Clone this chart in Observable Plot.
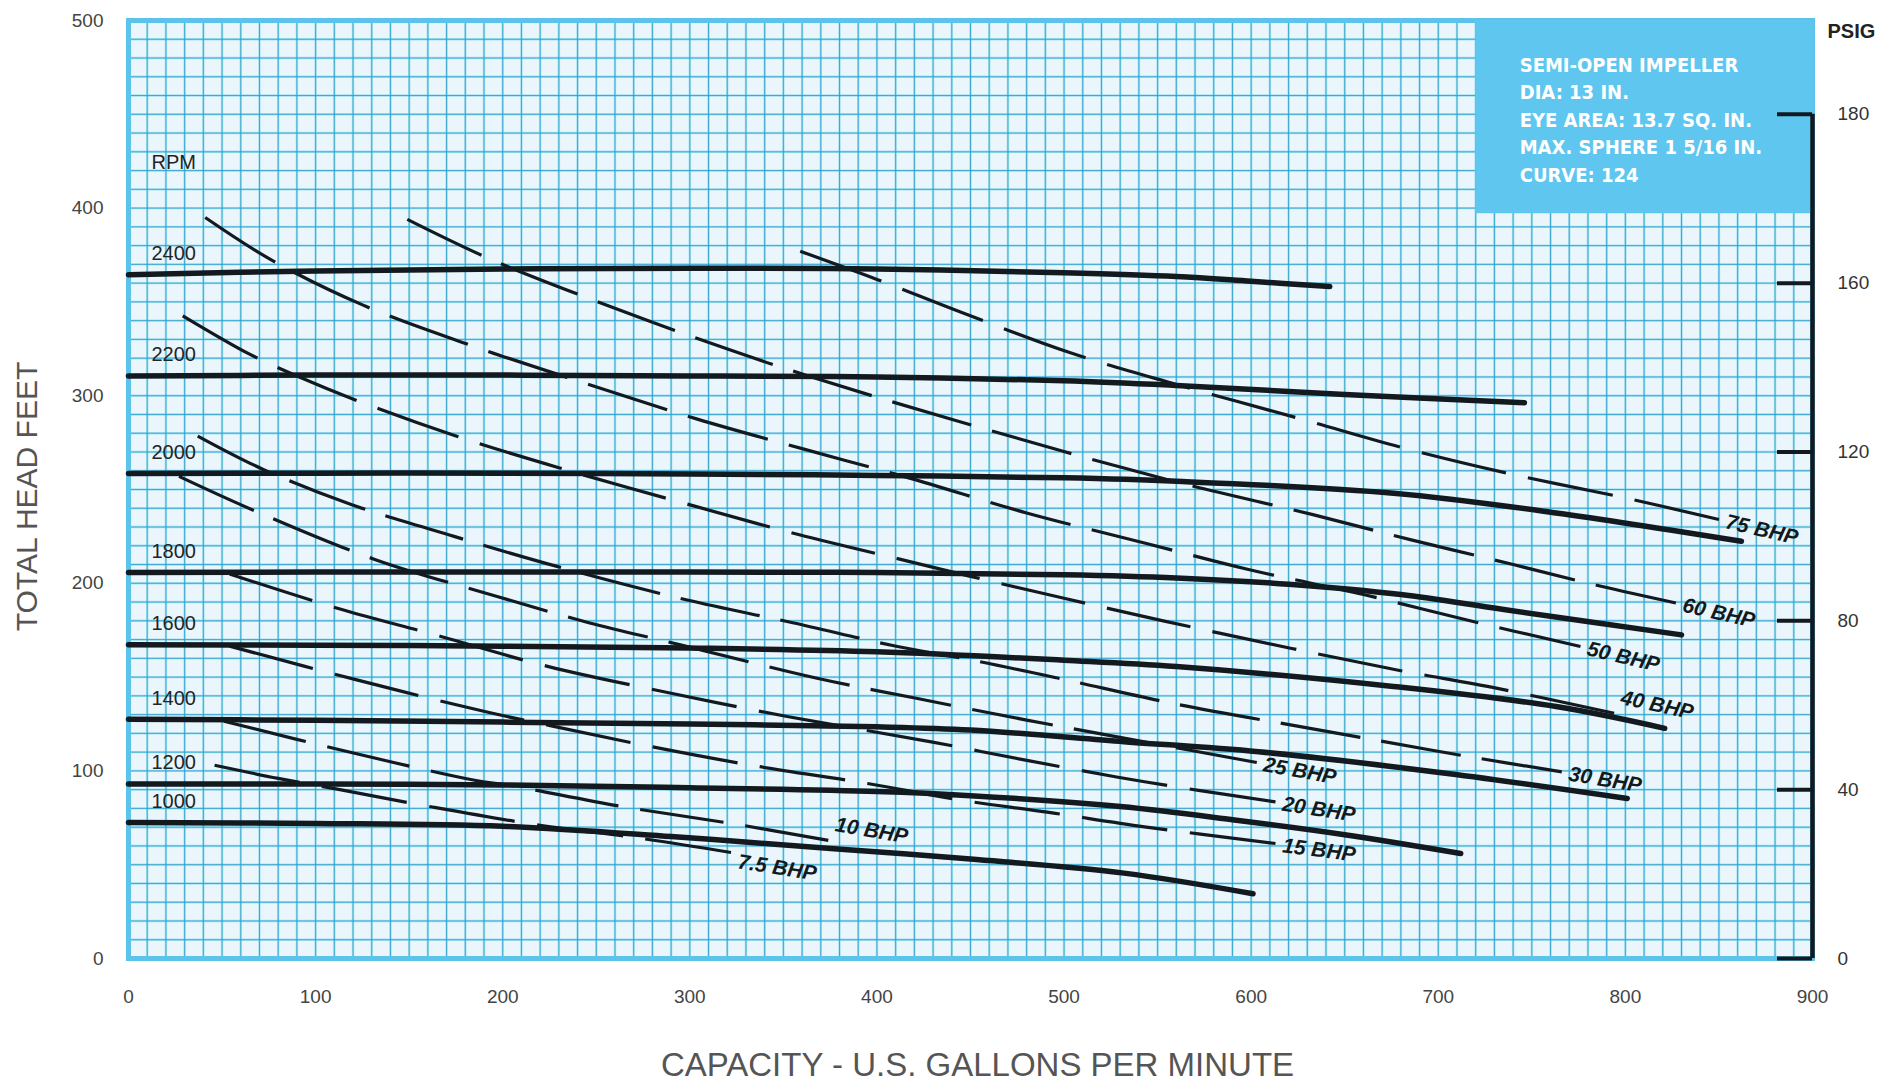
<!DOCTYPE html>
<html>
<head>
<meta charset="utf-8">
<script src="https://cdn.jsdelivr.net/npm/d3@7"></script>
<script src="https://cdn.jsdelivr.net/npm/@observablehq/plot@0.6"></script>
<style>
  html, body { margin: 0; padding: 0; background: #ffffff; }
  #chart { width: 1894px; height: 1083px; }
</style>
</head>
<body>
<div id="chart"></div>
<script>
// ---- Pump performance data: capacity (US gpm) vs total head (ft) ----
const rpmSpeeds = [2400, 2200, 2000, 1800, 1600, 1400, 1200, 1000];

const head2400 = [[0,364.5],[100,366.5],[200,367.5],[300,368],[400,367.5],[500,365.5],[560,363.5],[600,361],[642,358.2]];
const head2200 = [[0,310.5],[100,311],[200,311],[300,310.5],[400,310],[500,308],[560,305.5],[650,300.7],[746,296.3]];
const head2000 = [[0,258.5],[100,258.7],[200,258.7],[300,258.3],[400,257.5],[500,256.2],[560,254.4],[676,248],[763,237.5],[862,222.4]];
const head1800 = [[0,205.8],[100,206],[200,206],[300,206],[400,205.7],[500,204.5],[560,202.8],[620,199.5],[680,194],[735,186],[830,172.5]];
const head1600 = [[0,167.3],[100,167],[200,166.5],[300,165.5],[400,163.5],[500,159],[560,155.6],[676,145],[763,134.3],[821,122.7]];
const head1400 = [[0,127.5],[100,127],[200,126],[300,125],[400,123.5],[450,121.8],[532,115.6],[604,110.2],[705,98.6],[801,85.3]];
const head1200 = [[0,93],[100,93],[200,92.5],[300,91],[400,89],[450,86.8],[530,81],[590,74],[650,66],[712,56]];
const head1000 = [[0,72.5],[100,72],[200,70.5],[290,65],[377,58.5],[450,53],[532,45.5],[601,34.5]];

// Brake horsepower contours
const bhpRatings = [75, 60, 50, 40, 30, 25, 20, 15, 10, 7.5];

const bhp75 = [[359,377],[400,362],[445,344.5],[503,323],[560,306],[627,287.5],[682,272],[740,258],[800,245.5],[850,234]];
const bhp60 = [[149,394],[194,372.5],[251,350],[314,327],[365,310],[443,286.5],[555,255.3],[633,236.6],[685,223.3],[740,210],[787,198.4],[827,189.5]];
const bhp50 = [[41,395],[77,372],[126,348],[181,327.5],[246,306],[304,287.5],[361,271.5],[417,256.2],[480,237.5],[543,221.5],[598,207.5],[660,194],[717,180],[776,166.3]];
const bhp40 = [[29,342.6],[65,322],[90,310.5],[125,296.3],[175,278.5],[230,261.6],[303,241],[358,226],[417,211.7],[450,203.7],[500,192],[553,180],[621,165.4],[678,153.8],[731,144.1],[794,130.7]];
const bhp30 = [[37,278.5],[72,260.7],[119,242],[174,225],[229,209],[298,191.2],[355,179],[411,166.3],[450,159.2],[497,149.4],[558,136],[621,124.5],[671,115.6],[717,107.5],[766,99.5]];
const bhp25 = [[27,257],[68,238.4],[132,212.6],[197,193],[246,179],[295,167.2],[368,149.4],[421,138.7],[480,127.1],[540,116],[603,104.5]];
const bhp20 = [[54,205],[114,186],[164,172.5],[224.5,155.6],[290,141.4],[352,129],[429,115.5],[478,106],[543,94.2],[613,83.5]];
const bhp15 = [[54,166.5],[122,148.5],[191,131.5],[226,124],[274,114],[333,103],[395,93.3],[445,84.4],[491,78],[543,70.2],[613,61.3]];
const bhp10 = [[51,126.5],[114,111],[185,95],[203,92.4],[265,80.8],[322,72],[374,63]];
const bhp7_5 = [[46,103],[80,96],[113,90],[161,81],[220,71],[274,64],[322,56.5]];

// Axis ticks
const capacityTicks = [0, 100, 200, 300, 400, 500, 600, 700, 800, 900];
const headTicks = [0, 100, 200, 300, 400, 500];
const psigTicks = [0, 40, 80, 120, 160, 200];
const psigTickLabels = ["0", "40", "80", "120", "160", "180"];
const feetPerPsi = 2.25;

// Impeller specification panel
const impellerNotes = ["SEMI-OPEN IMPELLER", "DIA: 13 IN.", "EYE AREA: 13.7 SQ. IN.", "MAX. SPHERE 1 5/16 IN.", "CURVE: 124"];
const notePanel = {x1: 720, x2: 900, y1: 397, y2: 500};

// ---- Layout ----
const W = 1894, H = 1083;
const mL = 128, mR = 82, mT = 20, mB = 125;
const kx = (W - mL - mR) / 900, ky = (H - mT - mB) / 500;

const SANS = "'Liberation Sans', Arial, Helvetica, sans-serif";
const CONDENSED = "'DejaVu Sans Condensed', 'Liberation Sans Narrow', sans-serif";
const INK = "#121a20";

const rpmCurves = [head2400, head2200, head2000, head1800, head1600, head1400, head1200, head1000];
const bhpCurves = [bhp75, bhp60, bhp50, bhp40, bhp30, bhp25, bhp20, bhp15, bhp10, bhp7_5];

const rpmRows = rpmCurves.flatMap((pts, i) => pts.map(([q, h]) => ({rpm: rpmSpeeds[i], q, h})));
const rpmStarts = rpmCurves.map((pts, i) => ({rpm: rpmSpeeds[i], q: pts[0][0], h: pts[0][1]}));

// on-screen length of a curve (polyline approximation)
function pixelLength(pts) {
  let L = 0;
  for (let i = 1; i < pts.length; i++) {
    L += Math.hypot((pts[i][0] - pts[i - 1][0]) * kx, (pts[i][1] - pts[i - 1][1]) * ky);
  }
  return L;
}
// stretch the dash pattern slightly so each contour starts and ends on a dash
const DASH = 84, GAP = 22;
function dashFor(pts) {
  const L = pixelLength(pts);
  const n = Math.max(1, Math.round((L + GAP) / (DASH + GAP)));
  const s = L / (n * DASH + (n - 1) * GAP);
  return `${(DASH * s).toFixed(2)},${(GAP * s).toFixed(2)}`;
}

// slope of the final segment of a curve, in screen degrees (clockwise)
function endAngle(pts) {
  const [a, b] = pts.slice(-2);
  return Math.atan2((a[1] - b[1]) * ky, (b[0] - a[0]) * kx) * 180 / Math.PI;
}
const bhpEnds = bhpCurves.map((pts, i) => {
  const [q, h] = pts[pts.length - 1];
  return {bhp: bhpRatings[i], q, h, angle: endAngle(pts), label: `${bhpRatings[i]} BHP`};
});
const raised = new Set([40, 10]);
const lowered = new Set([7.5]);

const psigFeet = psigTicks.map(p => p * feetPerPsi);
const psigLabelOf = new Map(psigFeet.map((f, i) => [f, psigTickLabels[i]]));

const bhpLabelStyle = {
  x: "q", y: "h", text: "label", rotate: "angle",
  textAnchor: "start", lineAnchor: "middle", dx: 7,
  fontFamily: SANS, fontSize: 21, fontWeight: "bold", fontStyle: "italic", fill: INK
};

const chart = Plot.plot({
  width: W, height: H,
  marginLeft: mL, marginRight: mR, marginTop: mT, marginBottom: mB,
  x: {domain: [0, 900]},
  y: {domain: [0, 500]},
  style: {fontFamily: SANS, fontSize: "19px", color: "#444", background: "#ffffff", overflow: "visible"},
  marks: [
    // graph-paper background
    Plot.frame({fill: "#eaf6fc", stroke: null}),
    Plot.ruleX(d3.range(10, 900, 10), {stroke: "#6fd3f0", strokeWidth: 2.4, strokeOpacity: 0.55}),
    Plot.ruleY(d3.range(10, 500, 10), {stroke: "#6fd3f0", strokeWidth: 2.4, strokeOpacity: 0.55}),
    Plot.ruleX(d3.range(10, 900, 10), {stroke: "#2a9fc8", strokeWidth: 1, strokeOpacity: 0.85}),
    Plot.ruleY(d3.range(10, 500, 10), {stroke: "#2a9fc8", strokeWidth: 1, strokeOpacity: 0.85}),
    Plot.frame({stroke: "#5cc3ea", strokeWidth: 5}),

    // impeller specification panel
    Plot.rect([notePanel], {x1: "x1", x2: "x2", y1: "y1", y2: "y2", fill: "#5ec6ef"}),
    Plot.text([impellerNotes.join("\n")], {
      x: () => notePanel.x1, y: () => notePanel.y2, dx: 44, dy: 32,
      textAnchor: "start", lineAnchor: "top", lineHeight: 1.37,
      fontFamily: CONDENSED, fontSize: 20, fontWeight: "bold", fill: "#ffffff"
    }),

    // BHP contours (dashed)
    ...bhpCurves.map(pts => Plot.line(pts, {
      x: d => d[0], y: d => d[1], curve: "catmull-rom",
      stroke: INK, strokeWidth: 3.2, strokeDasharray: dashFor(pts), strokeLinecap: "butt"
    })),

    // head-capacity curves per speed
    Plot.line(rpmRows, {
      x: "q", y: "h", z: "rpm", curve: "catmull-rom",
      stroke: INK, strokeWidth: 5.5, strokeLinecap: "round"
    }),

    // speed labels
    Plot.text(rpmStarts, {
      x: "q", y: "h", text: d => String(d.rpm), dx: 23, dy: -21,
      textAnchor: "start", fontFamily: SANS, fontSize: 20, fill: "#1e2428"
    }),
    Plot.text(rpmStarts.slice(0, 1), {
      x: "q", y: "h", text: () => "RPM", dx: 23, dy: -112,
      textAnchor: "start", fontFamily: SANS, fontSize: 20, fill: "#1e2428"
    }),

    // BHP labels
    Plot.text(bhpEnds.filter(d => !raised.has(d.bhp) && !lowered.has(d.bhp)), {...bhpLabelStyle, dy: 2}),
    Plot.text(bhpEnds.filter(d => raised.has(d.bhp)), {...bhpLabelStyle, dy: -16}),
    Plot.text(bhpEnds.filter(d => lowered.has(d.bhp)), {...bhpLabelStyle, dy: 9}),

    // pressure scale on the right
    Plot.ruleX([900], {y1: 0, y2: d3.max(psigFeet), stroke: INK, strokeWidth: 4.5}),
    Plot.ruleY(psigFeet, {stroke: INK, strokeWidth: 4, insetLeft: (W - mL - mR) - 35}),
    Plot.axisY(psigFeet, {
      anchor: "right", tickSize: 0, tickPadding: 25, label: null,
      tickFormat: d => psigLabelOf.get(d), fontSize: 19, fill: "#333"
    }),
    Plot.text(["PSIG"], {
      frameAnchor: "top-right", dx: 15, dy: 11, textAnchor: "start", lineAnchor: "middle",
      fontFamily: SANS, fontSize: 20, fontWeight: "bold", fill: "#222"
    }),

    // capacity and head axes
    Plot.axisX(capacityTicks, {tickSize: 0, tickPadding: 31, label: null, fontSize: 19, fill: "#444"}),
    Plot.axisY(headTicks, {anchor: "left", tickSize: 0, tickPadding: 25, label: null, fontSize: 19, fill: "#444"}),
    Plot.text(["CAPACITY - U.S. GALLONS PER MINUTE"], {
      frameAnchor: "bottom", dx: 7, dy: 107, textAnchor: "middle", lineAnchor: "middle",
      fontFamily: SANS, fontSize: 33, fill: "#555"
    }),
    Plot.text(["TOTAL HEAD FEET"], {
      frameAnchor: "left", rotate: -90, dx: -101, dy: 7, textAnchor: "middle", lineAnchor: "middle",
      fontFamily: SANS, fontSize: 30, fill: "#555"
    })
  ]
});

document.getElementById("chart").appendChild(chart);
</script>
</body>
</html>
